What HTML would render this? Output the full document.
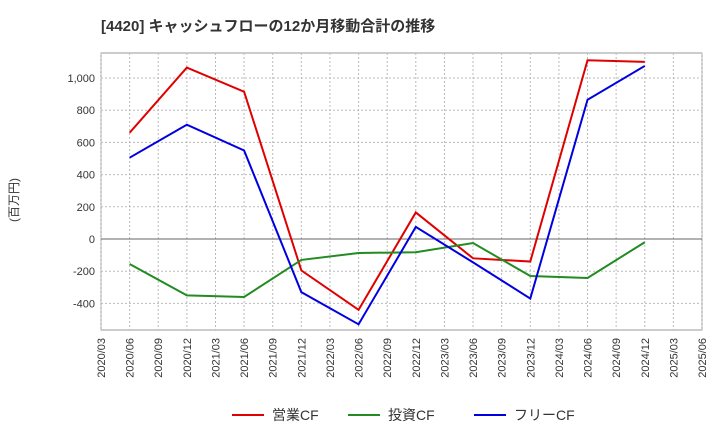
<!DOCTYPE html>
<html><head><meta charset="utf-8"><style>
body{margin:0;background:#fff;font-family:"Liberation Sans","Noto Sans CJK JP",sans-serif}
</style></head><body>
<svg id="c" width="720" height="440" xmlns="http://www.w3.org/2000/svg">
<text x="101" y="31" font-size="15" font-weight="bold" fill="#333">[4420]  キャッシュフローの12か月移動合計の推移</text>
<text transform="translate(18,200) rotate(-90)" font-size="12" fill="#333" text-anchor="middle">(百万円)</text>
<g id="grid"></g><g id="axes"></g><g id="series"></g><g id="legend"></g>
</svg>
<script>
const xLabels=["2020/03","2020/06","2020/09","2020/12","2021/03","2021/06","2021/09","2021/12","2022/03","2022/06","2022/09","2022/12","2023/03","2023/06","2023/09","2023/12","2024/03","2024/06","2024/09","2024/12","2025/03","2025/06"];
const yTicks=[-400,-200,0,200,400,600,800,1000];
const yTickLabels=["-400","-200","0","200","400","600","800","1,000"];
const pointIdx=[1,3,5,7,9,11,13,15,17,19];
const operatingCF=[660,1065,915,-195,-440,165,-120,-140,1110,1100];
const investingCF=[-155,-350,-360,-130,-87,-82,-25,-230,-242,-20];
const freeCF=[505,710,550,-330,-530,75,-145,-370,865,1075];
const seriesNames=["営業CF","投資CF","フリーCF"];
const colors=["#e00000","#228b22","#0000e0"];
const L=101,R=702,T=53,B=330;
const xs=i=>L+(R-L)*i/(xLabels.length-1);
const ys=v=>239-v*0.161;
const ns="http://www.w3.org/2000/svg";
function mk(p,t,a){const e=document.createElementNS(ns,t);for(const k in a)e.setAttribute(k,a[k]);p.appendChild(e);return e;}
const g=document.getElementById('grid'),ax=document.getElementById('axes'),s=document.getElementById('series'),lg=document.getElementById('legend');
const bg=mk(g,'rect',{x:L,y:T,width:R-L,height:B-T,fill:'#fff',stroke:'#999'});

xLabels.forEach((lab,i)=>{
 const x=xs(i);
 const l=mk(g,'line',{x1:x,x2:x,y1:T,y2:B,stroke:'#bbb','stroke-dasharray':'2,2'});
 
 const t=mk(ax,'text',{transform:`translate(${x+4},${B+8}) rotate(-90)`,'font-size':'11',fill:'#333','text-anchor':'end'});
 t.textContent=lab;
});
yTicks.forEach((v,i)=>{
 const y=ys(v);
 const l=mk(g,'line',{x1:L,x2:R,y1:y,y2:y,stroke:v===0?'#666':'#bbb','stroke-dasharray':v===0?'':'2,2'});
 
 const t=mk(ax,'text',{x:L-6,y:y+4,'font-size':'11',fill:'#333','text-anchor':'end'});
 t.textContent=yTickLabels[i];
});
[operatingCF,investingCF,freeCF].forEach((d,k)=>{
 const pts=d.map((v,i)=>xs(pointIdx[i])+','+ys(v)).join(' ');
 const p=mk(s,'polyline',{points:pts,fill:'none',stroke:colors[k],'stroke-width':2});
 
});
const lx=[232,348,474];
seriesNames.forEach((n,k)=>{
 const l=mk(lg,'line',{x1:lx[k],x2:lx[k]+32,y1:415,y2:415,stroke:colors[k],'stroke-width':2});
 
 const t=mk(lg,'text',{x:lx[k]+40,y:420,'font-size':'14',fill:'#333'});
 t.textContent=n;
});
</script>
</body></html>
